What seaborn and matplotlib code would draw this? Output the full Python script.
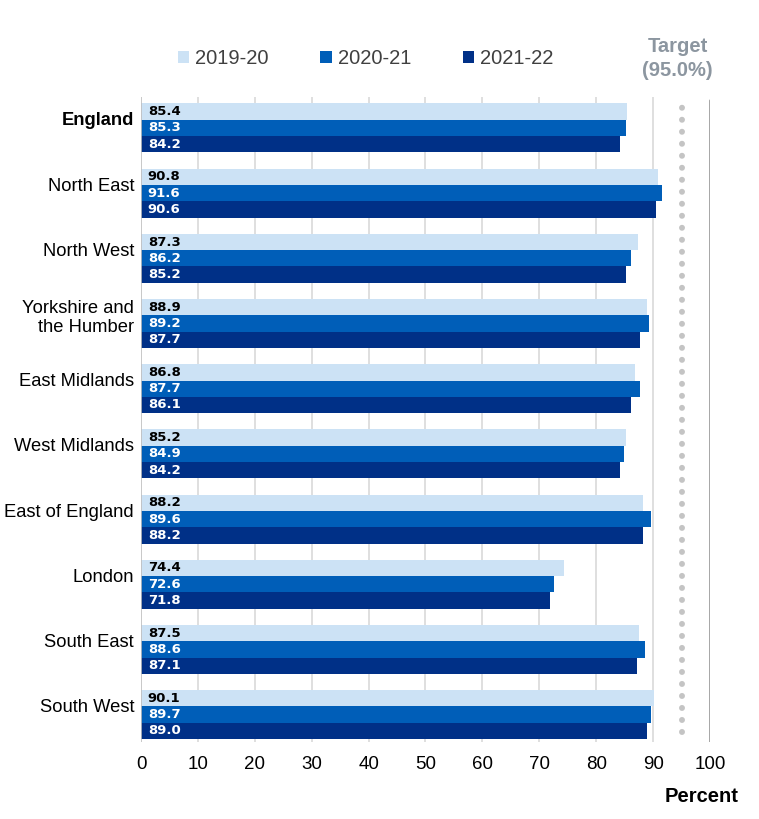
import pandas as pd
import seaborn as sns
import matplotlib.pyplot as plt
import matplotlib.transforms as mtransforms
from matplotlib.patches import Patch

regions = ['England', 'North East', 'North West', 'Yorkshire and\nthe Humber',
           'East Midlands', 'West Midlands', 'East of England', 'London',
           'South East', 'South West']
years = ['2019-20', '2020-21', '2021-22']
vals_1920 = [85.4, 90.8, 87.3, 88.9, 86.8, 85.2, 88.2, 74.4, 87.5, 90.1]
vals_2021 = [85.3, 91.6, 86.2, 89.2, 87.7, 84.9, 89.6, 72.6, 88.6, 89.7]
vals_2122 = [84.2, 90.6, 85.2, 87.7, 86.1, 84.2, 88.2, 71.8, 87.1, 89.0]
target = 95.0
colors = ['#CCE2F5', '#005EB8', '#003087']

df = pd.DataFrame({
    'region': regions * 3,
    'year': [y for y in years for _ in regions],
    'value': vals_1920 + vals_2021 + vals_2122,
})

sns.set_style('white')
plt.rcParams['font.family'] = ['Liberation Sans', 'DejaVu Sans']

fig = plt.figure(figsize=(7.59, 8.19), dpi=100)
ax = fig.add_axes([0.1858, 0.094, 0.7496, 0.7876])

sns.barplot(data=df, y='region', x='value', hue='year', orient='h',
            palette=colors, width=0.75, ax=ax, legend=False, saturation=1,
            linewidth=0, edgecolor='none')

# value labels inside each bar, at the left
for i, cont in enumerate(ax.containers):
    for bar, v in zip(cont, [vals_1920, vals_2021, vals_2122][i]):
        ax.text(1.2, bar.get_y() + bar.get_height() / 2, f'{v:.1f}',
                va='center', ha='left', fontsize=9.5, fontweight='bold',
                family='DejaVu Sans', color='black' if i == 0 else 'white')

ax.set_xlim(0, 100)
ax.set_ylim(9.42, -0.475)
ax.set_xticks(range(0, 101, 10))
ax.tick_params(axis='x', labelsize=13.5, length=0, pad=10)
ax.tick_params(axis='y', labelsize=13.2, length=0, pad=5)
shift = mtransforms.ScaledTranslation(0, 9 / 100, fig.dpi_scale_trans)
for lab in ax.get_yticklabels():
    lab.set_color('black')
    lab.set_transform(lab.get_transform() + shift)
    if lab.get_text() == 'England':
        lab.set_fontweight('bold')
for lab in ax.get_xticklabels():
    lab.set_color('black')
ax.set_xlabel('')
ax.set_ylabel('')

for x in range(10, 100, 10):
    ax.axvline(x, color='#D9D9D9', lw=1.2, zorder=0)
ax.axvline(0, color='#BFBFBF', lw=1.2, zorder=3)
ax.axvline(100, color='#8C8C8C', lw=1.8, ymax=0.995, zorder=0)
# target line: round dots, ~12 px apart
ax.axvline(target, color='#C4C4C4', lw=4.3, linestyle=(0, (0.01, 2.0)),
           dash_capstyle='round', ymin=0.015, ymax=0.993, zorder=0)
for s in ax.spines.values():
    s.set_visible(False)

handles = [Patch(facecolor=c, edgecolor='none') for c in colors]
fig.legend(handles, years, loc='center left', bbox_to_anchor=(0.21, 0.928),
           ncol=3, frameon=False, fontsize=14.5, handlelength=0.55,
           handleheight=0.55, handletextpad=0.3, columnspacing=2.6,
           labelcolor='#404040')

fig.text(0.893, 0.943, 'Target', ha='center', va='center', fontsize=14.5,
         fontweight='bold', color='#8C96A0')
fig.text(0.893, 0.914, '(95.0%)', ha='center', va='center', fontsize=14.5,
         fontweight='bold', color='#8C96A0')
fig.text(0.973, 0.027, 'Percent', ha='right', va='center', fontsize=14.5,
         fontweight='bold', color='black')

fig.savefig('out.png', dpi=100)
